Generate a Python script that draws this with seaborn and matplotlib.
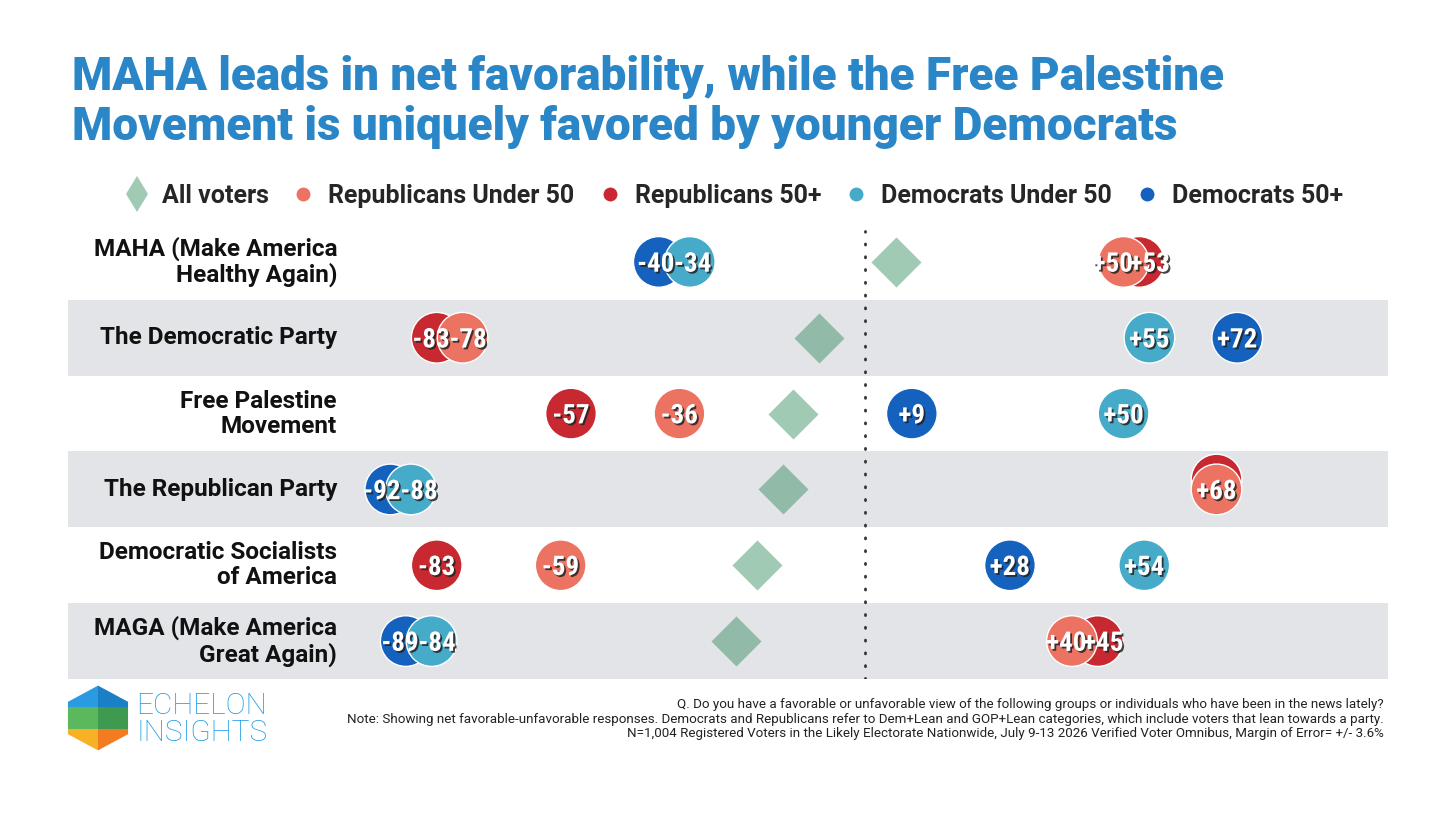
import matplotlib
matplotlib.use("Agg")
import matplotlib.pyplot as plt
import matplotlib.patheffects as pe
from matplotlib.lines import Line2D
from matplotlib.patches import Polygon
import seaborn as sns
import pandas as pd

sns.set_style("white")
plt.rcParams['font.family'] = ['Roboto', 'DejaVu Sans']

# Data (net favorable - unfavorable)
groups = [
    "MAHA (Make America\nHealthy Again)",
    "The Democratic Party",
    "Free Palestine\nMovement",
    "The Republican Party",
    "Democratic Socialists\nof America",
    "MAGA (Make America\nGreat Again)",
]
all_voters = [6, -9, -14, -16, -21, -25]
rep_under_50 = [50, -78, -36, 68, -59, 40]
rep_50_plus = [53, -83, -57, 68, -83, 45]
dem_under_50 = [-34, 55, 50, -88, 54, -84]
dem_50_plus = [-40, 72, 9, -92, 28, -89]

series_names = ["All voters", "Republicans Under 50", "Republicans 50+",
                "Democrats Under 50", "Democrats 50+"]
colors = {
    "All voters": "#2f8a5c",
    "Republicans Under 50": "#ec7262",
    "Republicans 50+": "#c8282f",
    "Democrats Under 50": "#46abc9",
    "Democrats 50+": "#1461be",
}

# long-form table; older groups first so the under-50 circles sit on top
rows = []
for name, vals in [("Republicans 50+", rep_50_plus), ("Democrats 50+", dem_50_plus),
                   ("Republicans Under 50", rep_under_50), ("Democrats Under 50", dem_under_50)]:
    for i, v in enumerate(vals):
        y = float(i)
        hidden = False
        # a tie with the under-50 group: nudge the 50+ circle up so it peeks out
        if name == "Republicans 50+" and v == rep_under_50[i]:
            y -= 0.13
            hidden = True
        rows.append({"row": i, "series": name, "value": v, "y": y, "hidden": hidden})
df = pd.DataFrame(rows)
df_all = pd.DataFrame({"group": groups, "value": all_voters, "y": range(len(groups))})

W, H = 1456, 819
fig = plt.figure(figsize=(W / 100, H / 100), dpi=100)
ax = fig.add_axes([68 / W, (H - 679) / H, 1320 / W, 455 / H])
xlim = (-154.4, 101.2)
ax.set_xlim(*xlim)
ax.set_ylim(len(groups) - 0.5, -0.5)

for i in range(len(groups)):
    if i % 2 == 1:
        ax.axhspan(i - 0.5, i + 0.5, color="#e3e4e8", zorder=0, lw=0)

ax.axvline(0, ymin=0, ymax=0.985, color="#333333", lw=2.0, ls=(0, (0.4, 4.2)),
           dash_capstyle="round", zorder=1)

sns.scatterplot(data=df_all, x="value", y="y", marker="D", s=650, color=colors["All voters"],
                alpha=0.45, linewidth=0, ax=ax, zorder=2, legend=False)
sns.scatterplot(data=df, x="value", y="y", hue="series", palette=colors, marker="o", s=1330,
                edgecolor="white", linewidth=1, ax=ax, zorder=3, legend=False)

# value labels: push apart labels of circles that sit close together
min_sep = 37 * (xlim[1] - xlim[0]) / 1320
label_font = ['Liberation Sans Narrow', 'Roboto Condensed', 'Roboto', 'DejaVu Sans']
for i in range(len(groups)):
    sub = df[(df["row"] == i) & (~df["hidden"])].sort_values("value")
    vals = list(sub["value"])
    pos = [float(v) for v in vals]
    for k in range(1, len(pos)):
        gap = pos[k] - pos[k - 1]
        if gap < min_sep:
            shift = (min_sep - gap) / 2
            pos[k - 1] -= shift
            pos[k] += shift
    for v, px, yy in zip(vals, pos, sub["y"]):
        ax.text(px, yy + 0.03, f"{v:+d}", ha="center", va="center",
                color="white", fontsize=19.5, fontweight="bold", family=label_font, zorder=5,
                path_effects=[pe.withSimplePatchShadow(offset=(1.3, -1.3),
                                                       shadow_rgbFace="#222222", alpha=0.85)])

tr = ax.get_yaxis_transform()
for i, g in enumerate(groups):
    ax.text((337 - 68) / 1320, i, g, transform=tr, ha="right", va="center",
            fontsize=17.5, fontweight="bold", color="#111111", linespacing=1.12)

ax.set_xticks([])
ax.set_yticks([])
ax.set_xlabel("")
ax.set_ylabel("")
sns.despine(ax=ax, left=True, bottom=True)

# title
fig.text(72 / W, 1 - 55 / H,
         "MAHA leads in net favorability, while the Free Palestine\n"
         "Movement is uniquely favored by younger Democrats",
         ha="left", va="top", fontsize=33, fontweight="heavy", color="#2a86c6", linespacing=1.16)

# legend
handles = [Line2D([], [], marker="d", ls="", markersize=18, color=colors["All voters"],
                  alpha=0.45, markeredgewidth=0)]
for name in series_names[1:]:
    handles.append(Line2D([], [], marker="o", ls="", markersize=10, color=colors[name],
                          markeredgewidth=0))
fig.legend(handles, series_names, loc="center", bbox_to_anchor=(731 / W, 1 - 196 / H),
           ncol=5, frameon=False, handletextpad=0.3, columnspacing=0.7, handlelength=1.4,
           prop={"weight": "bold", "size": 18})

# footnote
fig.text(1384 / W, 1 - 719 / H,
         "Q. Do you have a favorable or unfavorable view of the following groups or individuals who have been in the news lately?\n"
         "Note: Showing net favorable-unfavorable responses. Democrats and Republicans refer to Dem+Lean and GOP+Lean categories, which include voters that lean towards a party.\n"
         "N=1,004 Registered Voters in the Likely Electorate Nationwide, July 9-13 2026 Verified Voter Omnibus, Margin of Error= +/- 3.6%",
         ha="right", va="center", fontsize=9.6, color="#222222", linespacing=1.15, multialignment="right")

# logo
lax = fig.add_axes([60 / W, (H - 752) / H, 76 / W, 68 / H])
lax.set_xlim(-1.1, 1.1)
lax.set_ylim(-1.05, 1.05)
lax.axis("off")
hexagon = [(0, 1), (0.87, 0.5), (0.87, -0.5), (0, -1), (-0.87, -0.5), (-0.87, 0.5)]
clip = Polygon(hexagon, closed=True, transform=lax.transData, facecolor="none", edgecolor="none")
lax.add_patch(clip)
strips = [(0.33, 1.1, "#2a9be0", "#1a7fc4"), (-0.33, 0.33, "#5cb85c", "#3d9a4e"),
          (-1.1, -0.33, "#f7b125", "#f47c20")]
for lo, hi, c1, c2 in strips:
    for x0, x1, c in [(-1.0, 0.0, c1), (0.0, 1.0, c2)]:
        p = Polygon([(x0, lo), (x1, lo), (x1, hi), (x0, hi)], closed=True, facecolor=c, lw=0)
        lax.add_patch(p)
        p.set_clip_path(clip)
fig.text(136 / W, 1 - 706 / H, "ECHELON", ha="left", va="center", fontsize=21.5,
         fontweight="light", color="#1a9be6")
fig.text(136 / W, 1 - 733 / H, "INSIGHTS", ha="left", va="center", fontsize=21.5,
         fontweight="light", color="#1a9be6")

fig.savefig("out.png", dpi=100)
